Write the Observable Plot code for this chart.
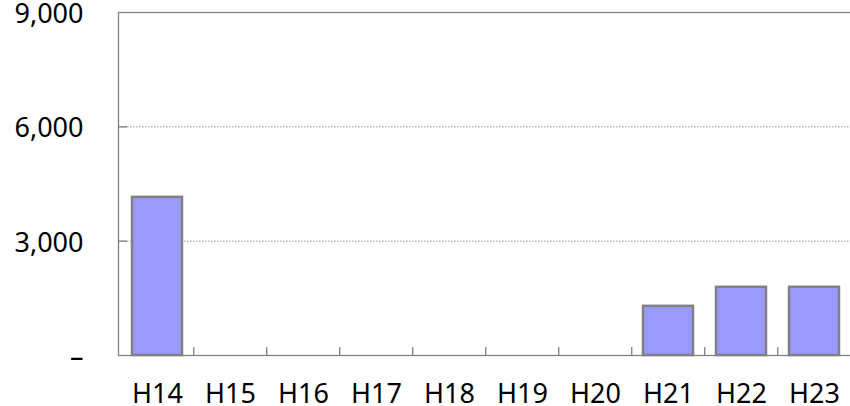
<!DOCTYPE html>
<html>
<head>
<meta charset="utf-8">
<script src="https://cdn.jsdelivr.net/npm/d3@7"></script>
<script src="https://cdn.jsdelivr.net/npm/@observablehq/plot@0.6"></script>
<style>
  html, body { margin: 0; padding: 0; background: #fff; overflow: hidden; }
</style>
</head>
<body>
<div id="chart"></div>
<script>
const categories = ["H14", "H15", "H16", "H17", "H18", "H19", "H20", "H21", "H22", "H23"];
const values = [4150, null, null, null, null, null, null, 1290, 1790, 1790];
const yTicks = [0, 3000, 6000, 9000];

const data = categories.map((c, i) => ({category: c, value: values[i]}));

const W = 850, H = 406, mL = 118, mR = -3, mT = 12, mB = 51;
const step = (W - mL - mR) / categories.length;

const chart = Plot.plot({
  width: W,
  height: H,
  marginLeft: mL,
  marginRight: mR,
  marginTop: mT,
  marginBottom: mB,
  style: {fontFamily: "'Noto Sans', sans-serif", fontSize: "27px", color: "#000", background: "#fff", overflow: "visible"},
  x: {domain: categories, paddingInner: 0.32, paddingOuter: 0.16, label: null},
  y: {domain: [0, 9000], ticks: yTicks, label: null},
  marks: [
    Plot.gridY(yTicks.filter(d => d > 0 && d < 9000), {stroke: "#999", strokeOpacity: 1, strokeDasharray: "1.5,1.5", strokeWidth: 1}),
    Plot.frame({stroke: "#808080", strokeWidth: 1.3}),
    Plot.axisY(yTicks, {tickSize: 0, tickPadding: 35, dy: 2, label: null, tickFormat: d => d === 0 ? "–" : d3.format(",")(d), fill: "#000", fontSize: 27}),
    Plot.axisY(yTicks.filter(d => d > 0 && d < 9000), {tickSize: 9, dx: 9, text: null, label: null, stroke: "#808080", strokeWidth: 1.3}),
    Plot.axisX(categories.slice(1), {tickSize: 8, dx: -step / 2, dy: -8, text: null, label: null, stroke: "#808080", strokeWidth: 1.3}),
    Plot.axisX({tickSize: 0, tickPadding: 28, label: null, fill: "#000", fontSize: 27}),
    Plot.barY(data.filter(d => d.value != null), {x: "category", y: "value", fill: "#9999FF", stroke: "#808080", strokeWidth: 2.5})
  ]
});
document.getElementById("chart").appendChild(chart);
</script>
</body>
</html>
